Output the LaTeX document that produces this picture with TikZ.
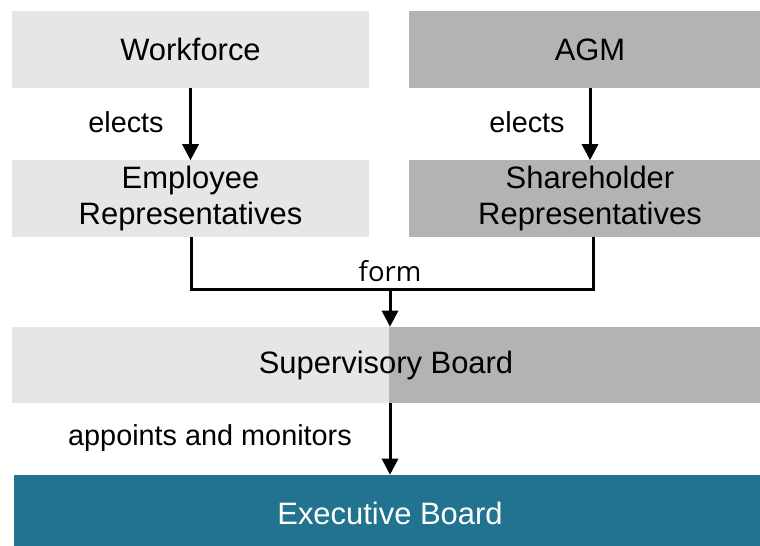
\documentclass[tikz,border=0pt]{standalone}
\usepackage{fontspec}
\setmainfont{Liberation Sans}
\newfontfamily\formfont{Open Sans}
\usetikzlibrary{arrows.meta}
\definecolor{empgray}{HTML}{E6E6E6}
\definecolor{shgray}{HTML}{B3B3B3}
\definecolor{execteal}{HTML}{21738F}
\begin{document}
\begin{tikzpicture}[
	x=0.025cm, y=-0.025cm,
	box/.style={ rectangle, inner sep=0pt, align=center, minimum height=1.9cm,
		font=\fontsize{22}{26}\selectfont },
	empbox/.style={ box, fill=empgray, minimum width=8.925cm },
	shbox/.style={ box, fill=shgray, minimum width=9.05cm },
	lbl/.style={ font=\fontsize{20.5}{24}\selectfont },
	link/.style={ line width=0.075cm, -{Triangle[width=0.4cm,length=0.4cm]} }
]
\useasboundingbox (0,0) rectangle (760,545);

\node at (190.5,49.5) (wf) [empbox] {Workforce};
\node at (590,49.5) (agm) [shbox] {AGM};

\node at (190.5,198.5) (emprep) [empbox] {Employee\\Representatives};
\node at (590,198.5) (shrep) [shbox] {Shareholder\\Representatives};

\draw[link] (wf) to (emprep);
\node at (126,122) (el1) [lbl] {elects};
\draw[link] (agm) to (shrep);
\node at (527,122) (el2) [lbl] {elects};

\node at (386,365) (sup) [box, fill=empgray, minimum width=18.7cm,
	path picture={\fill[shgray] ([xshift=0.075cm]path picture bounding box.south)
		rectangle (path picture bounding box.north east);}] {Supervisory Board};

\coordinate (join) at (390,289);
\draw[line width=0.075cm] (emprep.south -| 191,0) |- (join) -| (shrep.south -| 593,0);
\draw[link] (join) to (join |- sup.north);
\node at (390,271) (form) [font=\formfont\fontsize{19.5}{23}\selectfont] {form};

\node at (390,513) (exec) [box, fill=execteal, text=white, minimum width=18.8cm,
	minimum height=1.9cm] {Executive Board};
\draw[link] (sup.south -| join) to (exec.north -| join);
\node at (210,438) (appt) [lbl] {appoints and monitors};

\end{tikzpicture}
\end{document}
